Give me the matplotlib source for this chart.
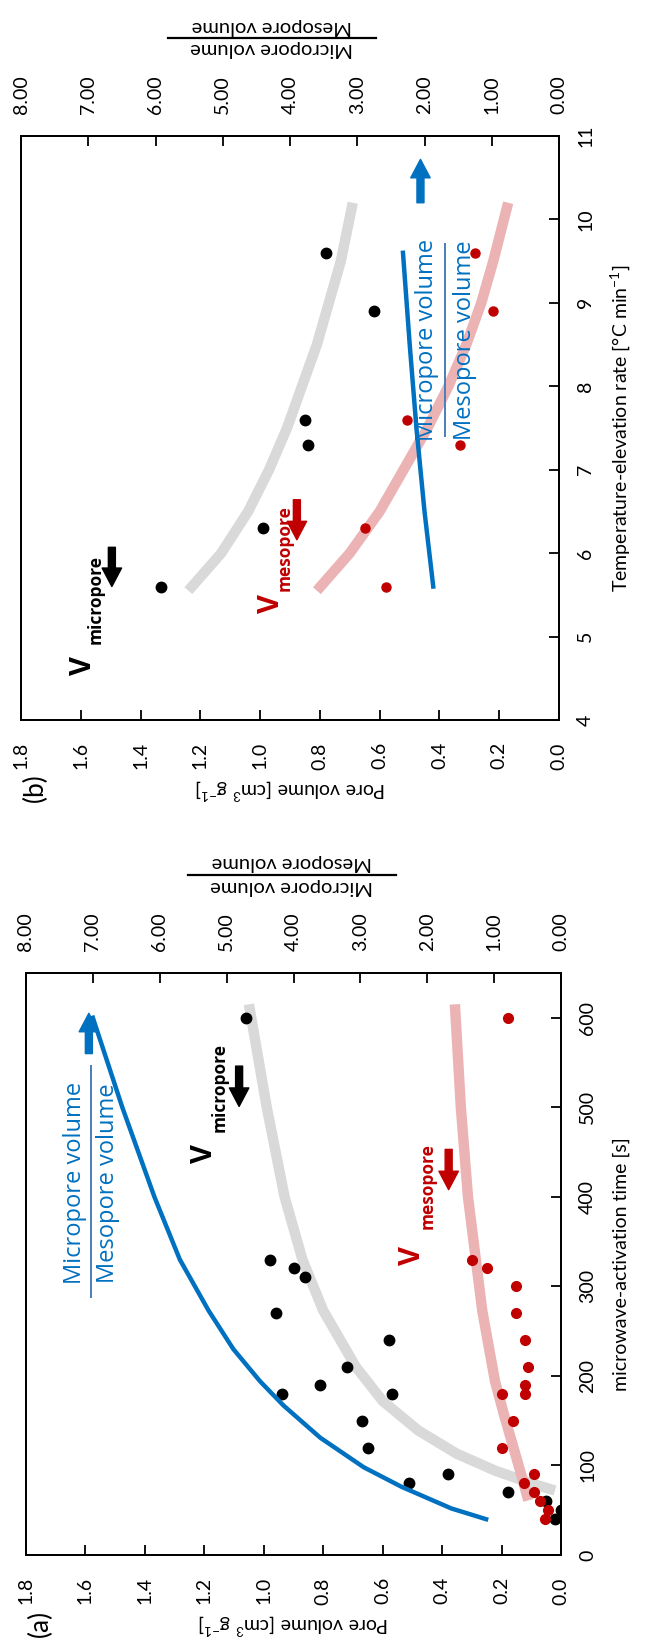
import numpy as np
import matplotlib.pyplot as plt
from matplotlib.lines import Line2D

plt.rcParams['font.family'] = ['Lato', 'DejaVu Sans']
plt.rcParams['mathtext.fontset'] = 'custom'
plt.rcParams['mathtext.rm'] = 'Lato'
plt.rcParams['mathtext.bf'] = 'Lato:bold'

BLACK = '#000000'
RED = '#c00000'
BLUE = '#0070c0'
GRAY = '#d9d9d9'
PINK = '#ebb3b3'

pore_ticks = [0.0, 0.2, 0.4, 0.6, 0.8, 1.0, 1.2, 1.4, 1.6, 1.8]
ratio_ticks = [0, 1, 2, 3, 4, 5, 6, 7, 8]

# (a) microwave activation time series
time_a_ticks = [0, 100, 200, 300, 400, 500, 600]
t_a_micro = [40, 50, 60, 70, 80, 90, 120, 150, 180, 180, 190, 210, 240, 270, 310, 320, 330, 600]
v_a_micro = [0.02, 0.0, 0.05, 0.18, 0.51, 0.38, 0.65, 0.67, 0.94, 0.57, 0.81, 0.72, 0.58, 0.96, 0.86, 0.90, 0.98, 1.06]
t_a_meso = [40, 50, 60, 70, 80, 90, 120, 150, 180, 180, 190, 210, 240, 270, 300, 320, 330, 600]
v_a_meso = [0.055, 0.045, 0.07, 0.09, 0.125, 0.09, 0.20, 0.16, 0.20, 0.12, 0.12, 0.11, 0.12, 0.15, 0.15, 0.25, 0.30, 0.18]

fit_a_micro_t = [72, 79, 94, 113, 139, 172, 210, 273, 330, 400, 500, 615]
fit_a_micro_v = [0.02, 0.09, 0.22, 0.35, 0.48, 0.60, 0.69, 0.80, 0.87, 0.93, 0.99, 1.05]
fit_a_meso_t = [61, 83, 120, 157, 194, 273, 400, 500, 615]
fit_a_meso_v = [0.11, 0.128, 0.16, 0.192, 0.222, 0.265, 0.313, 0.337, 0.357]
fit_a_ratio_t = [40, 52, 76, 98, 131, 167, 194, 230, 273, 330, 400, 500, 600]
fit_a_ratio_r = [1.12, 1.64, 2.38, 2.95, 3.6, 4.15, 4.5, 4.9, 5.27, 5.7, 6.08, 6.56, 7.0]

# (b) temperature elevation rate series
time_b_ticks = [4, 5, 6, 7, 8, 9, 10, 11]
t_b = [5.6, 6.3, 7.3, 7.6, 8.9, 9.6]
v_b_micro = [1.33, 0.99, 0.84, 0.85, 0.62, 0.78]
v_b_meso = [0.58, 0.65, 0.33, 0.51, 0.22, 0.28]

fit_b_t = [5.55, 6.0, 6.5, 7.0, 7.5, 8.0, 8.5, 9.0, 9.5, 10.2]
fit_b_micro_v = [1.24, 1.13, 1.04, 0.97, 0.91, 0.86, 0.81, 0.77, 0.73, 0.69]
fit_b_meso_v = [0.81, 0.70, 0.60, 0.52, 0.44, 0.37, 0.31, 0.26, 0.22, 0.17]
fit_b_ratio_t = [5.6, 6.5, 7.5, 8.5, 9.6]
fit_b_ratio_r = [1.87, 2.0, 2.12, 2.22, 2.32]

W, H = 652, 1652
fig = plt.figure(figsize=(W / 100, H / 100), dpi=100)


def fx(x):
    return x / W


def fy(y):
    return 1 - y / H


def make_panel(left, right, top, bottom, tlim, tticks, tlabel, letter, rx):
    ax = fig.add_axes([fx(left), fy(bottom), (right - left) / W, (bottom - top) / H])
    ax.set_xlim(1.8, 0)
    ax.set_ylim(*tlim)
    ax.set_xticks(pore_ticks)
    ax.set_xticklabels([f'{v:.1f}' for v in pore_ticks], rotation=90)
    ax.set_yticks(tticks)
    ax.set_yticklabels([str(t) for t in tticks], rotation=90, va='center')
    ax.tick_params(axis='x', direction='in', length=7, width=1.3, pad=16,
                   labelsize=14, top=False)
    ax.tick_params(axis='y', direction='in', length=7, width=1.3, pad=13,
                   labelsize=14, left=False, labelleft=False,
                   right=True, labelright=True)
    for s in ax.spines.values():
        s.set_linewidth(1.3)

    ax2 = ax.twiny()
    ax2.set_xlim(8, 0)
    ax2.set_xticks(ratio_ticks)
    ax2.set_xticklabels([f'{r:.2f}' for r in ratio_ticks], rotation=90)
    ax2.tick_params(axis='x', direction='in', length=7, width=1.3, pad=16,
                    labelsize=14)
    for s in ax2.spines.values():
        s.set_linewidth(1.3)

    cx = (left + right) / 2
    # axis titles, turned with the panel
    fig.text(fx(cx), fy(bottom + 69), 'Pore volume [cm$^{3}$ g$^{-1}$]',
             rotation=180, ha='center', va='center', fontsize=14)
    fig.text(fx(621), fy((top + bottom) / 2), tlabel,
             rotation=90, ha='center', va='center', fontsize=14)
    fig.text(fx(left + 14), fy(bottom + 68), letter,
             rotation=90, ha='center', va='center', fontsize=19)

    # ratio axis title drawn as an upside-down fraction
    ly = top - 98
    fig.text(fx(rx), fy(ly + 11), 'Micropore volume', rotation=180,
             ha='center', va='center', fontsize=14.5)
    fig.text(fx(rx), fy(ly - 12), 'Mesopore volume', rotation=180,
             ha='center', va='center', fontsize=14.5)
    fig.add_artist(Line2D([fx(rx - 104), fx(rx + 104)], [fy(ly), fy(ly)],
                          color=BLACK, lw=1.6, transform=fig.transFigure))
    return ax, ax2


def block_arrow(ax, x, y_from, y_to, color, scale=14):
    ax.annotate('', xy=(x, y_to), xytext=(x, y_from),
                arrowprops=dict(arrowstyle='simple,head_length=0.95,head_width=1.0,tail_width=0.36',
                                color=color, shrinkA=0, shrinkB=0,
                                mutation_scale=scale))


def vlabel(ax, xv, yv, xs, ys, sub, color):
    ax.text(xv, yv, 'V', rotation=90, rotation_mode='anchor', ha='center',
            va='center', fontsize=21, fontweight='bold', color=color,
            family='Open Sans')
    ax.text(xs, ys, sub, rotation=90, rotation_mode='anchor', ha='center',
            va='center', fontsize=12.5, fontweight='bold', color=color,
            family='Open Sans')


def ratio_text(ax2, r_top, r_bot, r_line, tc, t0, t1):
    ax2.text(r_top, tc, 'Micropore volume', rotation=90, rotation_mode='anchor',
             ha='center', va='center', fontsize=17, color=BLUE, family='Open Sans')
    ax2.text(r_bot, tc, 'Mesopore volume', rotation=90, rotation_mode='anchor',
             ha='center', va='center', fontsize=17, color=BLUE, family='Open Sans')
    ax2.plot([r_line, r_line], [t0, t1], color='#4a7ebb', lw=1.4)


# ---- panel (b): temperature-elevation rate ----
axb, axb2 = make_panel(21, 559, 136, 720, (4, 11), time_b_ticks,
                       'Temperature-elevation rate [°C min$^{-1}$]', '(b)', 272)
axb.plot(fit_b_micro_v, fit_b_t, color=GRAY, lw=7.5, solid_capstyle='butt', zorder=2)
axb.plot(fit_b_meso_v, fit_b_t, color=PINK, lw=7.5, solid_capstyle='butt', zorder=2)
axb.plot(v_b_micro, t_b, 'o', color=BLACK, ms=7.5, zorder=3)
axb.plot(v_b_meso, t_b, 'o', color=RED, ms=6.5, zorder=3)
axb2.plot(fit_b_ratio_r, fit_b_ratio_t, color=BLUE, lw=3.2, zorder=3)

vlabel(axb, 1.59, 4.65, 1.55, 5.44, 'micropore', BLACK)
block_arrow(axb, 1.496, 6.07, 5.6, BLACK)
vlabel(axb, 0.963, 5.40, 0.917, 6.06, 'mesopore', RED)
block_arrow(axb, 0.877, 6.64, 6.16, RED)
ratio_text(axb2, 1.96, 1.40, 1.69, 8.55, 7.4, 9.7)
block_arrow(axb2, 2.06, 10.2, 10.72, BLUE)

# ---- panel (a): microwave-activation time ----
axa, axa2 = make_panel(26, 561, 973, 1555, (0, 650), time_a_ticks,
                       'microwave-activation time [s]', '(a)', 292)
axa.plot(fit_a_micro_v, fit_a_micro_t, color=GRAY, lw=7.5, solid_capstyle='butt', zorder=2)
axa.plot(fit_a_meso_v, fit_a_meso_t, color=PINK, lw=7.5, solid_capstyle='butt', zorder=2)
axa.plot(v_a_micro, t_a_micro, 'o', color=BLACK, ms=7.5, zorder=3)
axa.plot(v_a_meso, t_a_meso, 'o', color=RED, ms=7, zorder=3)
axa2.plot(fit_a_ratio_r, fit_a_ratio_t, color=BLUE, lw=3.2, zorder=3)

vlabel(axa, 1.198, 448, 1.15, 522, 'micropore', BLACK)
block_arrow(axa, 1.083, 546, 501, BLACK)
vlabel(axa, 0.50, 334, 0.45, 412, 'mesopore', RED)
block_arrow(axa, 0.378, 453, 408, RED)
ratio_text(axa2, 7.27, 6.78, 7.03, 415, 288, 546)
block_arrow(axa2, 7.06, 560, 605, BLUE)

fig.savefig('out.png', dpi=100)
